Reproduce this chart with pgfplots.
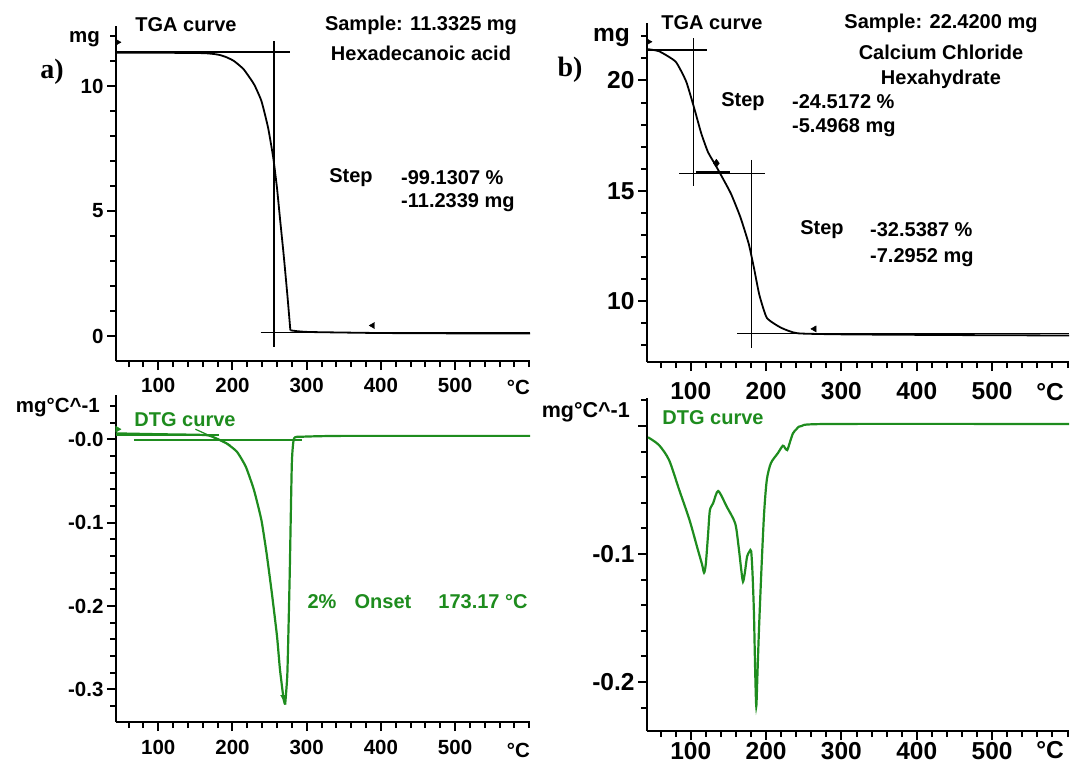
\documentclass[border=0pt]{standalone}
\usepackage{pgfplots}
\pgfplotsset{compat=1.18}
\usepackage{fontspec}
\setmainfont{Liberation Sans}
\newfontfamily\serifbold{Liberation Serif}
\definecolor{dtg}{RGB}{30,140,30}
\newcommand{\tla}{\fontsize{20.5}{20.5}\selectfont\bfseries}
\newcommand{\tlb}{\fontsize{24.5}{24.5}\selectfont\bfseries}
\newcommand{\an}{\fontsize{20}{22}\selectfont\bfseries}
\pgfplotsset{
  base/.style={scale only axis, anchor=south west,
    axis x line*=bottom, axis y line*=left,
    axis line style={black, line width=2.6pt},
    xtick pos=left, ytick pos=left,
    tick align=outside,
    every tick/.style={line width=2pt,black},
    major tick length=9pt, minor tick length=6pt, clip=false,
    /pgf/number format/assume math mode=true,
    xtick={100,200,300,400,500},
    minor xtick={60,80,120,140,160,180,220,240,260,280,320,340,360,380,420,440,460,480,520,540,560,580,600},
    xticklabels={100,200,300,400,500},
  },
  tga/.style={black, line width=1.8pt, smooth, tension=0.3},
  tan/.style={black, line width=1.2pt},
  dtgl/.style={dtg, line width=2.2pt, smooth, tension=0.3},
}
\begin{document}
\begin{tikzpicture}
\useasboundingbox (0,0) rectangle (1071pt,-764pt);
% ---------------- panel a, TGA
\begin{axis}[base, at={(116pt,-361pt)}, width=414pt, height=335pt,
  xmin=43, xmax=601, ymin=-1, ymax=12.4,
  ytick={0,5,10}, yticklabels={0,5,10},
  minor ytick={1,2,3,4,6,7,8,9,11,12},
  ticklabel style={font=\tla}, xticklabel style={yshift=-5pt}]
\addplot[tga] coordinates {(43,11.33) (100,11.33) (150,11.32) (164,11.31) (175,11.28) (183,11.24) (192,11.15) (202,11.0) (215,10.67) (229,10.07) (239,9.4) (248,8.33) (255,7.12) (260,5.92) (264,4.71) (269,3.24) (274,1.63) (278,0.23)};
\addplot[tga] coordinates {(278,0.23) (285,0.20) (304,0.16) (397,0.12) (500,0.105) (601,0.10)};
\addplot[tan] coordinates {(43,11.36) (277,11.36)};
\addplot[tan] coordinates {(256,11.8) (256,-0.45)};
\addplot[tan] coordinates {(238,0.13) (601,0.13)};
\addplot[only marks, mark=triangle*, mark size=3.5pt, mark options={rotate=-90, fill=black}] coordinates {(45,11.75)};
\addplot[only marks, mark=triangle*, mark size=3.5pt, mark options={rotate=90, fill=black}] coordinates {(389,0.42)};
\end{axis}
% ---------------- panel a, DTG
\begin{axis}[base, at={(116pt,-722pt)}, width=414pt, height=327pt,
  xmin=43, xmax=601, ymin=-0.339, ymax=0.053,
  ytick={-0.3,-0.2,-0.1,0}, yticklabels={-0.3,-0.2,-0.1,-0.0},
  minor ytick={-0.32,-0.28,-0.26,-0.24,-0.22,-0.18,-0.16,-0.14,-0.12,-0.08,-0.06,-0.04,-0.02,0.02,0.04},
  ticklabel style={font=\tla}, xticklabel style={yshift=-6pt}]
\addplot[dtg, line width=1.2pt] coordinates {(67,-0.001) (294,-0.001)};
\addplot[dtg, line width=2.6pt] coordinates {(43,0.005) (182,0.005)};
\addplot[dtg, line width=1.2pt] coordinates {(150,0.012) (197,-0.007)};
\addplot[dtgl] coordinates {(43,0.007) (100,0.006) (164,0.005) (178,0.001) (192,-0.005) (206,-0.015) (218,-0.033) (229,-0.061) (239,-0.097) (246,-0.137) (253,-0.184) (260,-0.236) (264,-0.276) (269,-0.312) (271,-0.318)};
\addplot[dtgl] coordinates {(271,-0.318) (274,-0.28) (277,-0.168) (280,-0.029) (283,0.001) (294,0.003) (350,0.004) (601,0.004)};
\addplot[only marks, dtg, mark=triangle*, mark size=3.5pt, mark options={rotate=-90, fill=dtg}] coordinates {(45,0.012)};
\addplot[only marks, dtg, mark=triangle*, mark size=3.5pt, mark options={rotate=180, fill=dtg}] coordinates {(269,-0.309)};
\end{axis}
% ---------------- panel b, TGA
\begin{axis}[base, at={(647pt,-362pt)}, width=422pt, height=339pt,
  xmin=42, xmax=602, ymin=7.25, ymax=22.6,
  ytick={10,15,20}, yticklabels={10,15,20},
  minor ytick={8,9,11,12,13,14,16,17,18,19,21,22},
  ticklabel style={font=\tlb}, xticklabel style={yshift=-8pt}]
\addplot[tga] coordinates {(42,21.42) (58,21.32) (80,20.85) (94,19.95) (105,18.7) (114,17.6) (123,16.75) (134,16.1) (153,14.9) (166,13.8) (177,12.6) (184,11.5) (191,10.3) (201,9.25) (220,8.8) (242,8.55) (305,8.5) (450,8.47) (602,8.45)};
\addplot[tan] coordinates {(42,21.38) (122,21.38)};
\addplot[tan] coordinates {(104,21.9) (104,15.2)};
\addplot[tan] coordinates {(85,15.8) (199,15.8)};
\addplot[black, line width=2.5pt] coordinates {(107,15.82) (152,15.82)};
\addplot[tan] coordinates {(181,16.4) (181,7.9)};
\addplot[tan] coordinates {(162,8.55) (602,8.55)};
\addplot[only marks, mark=diamond*, mark size=4pt, mark options={fill=black}] coordinates {(134,16.25)};
\addplot[only marks, mark=triangle*, mark size=3.5pt, mark options={rotate=-90, fill=black}] coordinates {(44,21.75)};
\addplot[only marks, mark=triangle*, mark size=3.5pt, mark options={rotate=90, fill=black}] coordinates {(264,8.75)};
\end{axis}
% ---------------- panel b, DTG
\begin{axis}[base, at={(647pt,-731pt)}, width=422pt, height=333pt,
  xmin=42, xmax=602, ymin=-0.2383, ymax=0.0219,
  ytick={-0.2,-0.1,0}, yticklabels={-0.2,-0.1,},
  minor ytick={-0.22,-0.18,-0.16,-0.14,-0.12,-0.08,-0.06,-0.04,-0.02,0.02},
  ticklabel style={font=\tlb}, xticklabel style={yshift=1pt}]
\addplot[dtgl, tension=0.45] coordinates {(43.4,-0.0088) (57.8,-0.0148) (71.3,-0.0266) (84.8,-0.050) (98.4,-0.0734) (109.6,-0.0969) (115,-0.108) (117.7,-0.1146) (120,-0.108) (123,-0.085) (125.4,-0.066) (129.7,-0.0604) (136.5,-0.0508) (147.8,-0.063) (159,-0.076) (163.5,-0.094) (167,-0.112) (169.4,-0.1216) (172,-0.114) (174.8,-0.102) (178,-0.098) (180.2,-0.0977) (182,-0.115) (183.9,-0.146) (185.5,-0.19) (187,-0.219) (188.5,-0.195) (190.6,-0.159) (194,-0.11) (197.4,-0.068) (201,-0.042) (206.4,-0.029) (215.4,-0.0214) (222.2,-0.0154) (225,-0.017) (228.1,-0.0188) (232,-0.012) (235.7,-0.0057) (241,-0.002) (247,0.000) (283,0.0016) (602,0.0016)};
\end{axis}
% ---------------- texts
\node[font=\an] at (186pt,-25pt) {TGA curve};
\node[font=\an] at (421pt,-25pt) {Sample: 11.3325 mg};
\node[font=\an] at (421pt,-53pt) {Hexadecanoic acid};
\node[font=\an] at (351pt,-178pt) {Step};
\node[font=\an, anchor=west, inner sep=0pt] at (401pt,-178pt) {-99.1307 \%};
\node[font=\an, anchor=west, inner sep=0pt] at (401pt,-203pt) {-11.2339 mg};
\node[font=\serifbold\bfseries\fontsize{28}{28}\selectfont] at (52pt,-72pt) {a)};
\node[font=\tla, anchor=east, inner sep=0pt] at (100pt,-39pt) {mg};
\node[font=\tla, anchor=east, inner sep=0pt] at (530pt,-387pt) {°C};
\node[font=\tla, anchor=east, inner sep=0pt] at (100pt,-408pt) {mg°C\^{}-1};
\node[font=\an, text=dtg] at (185pt,-420pt) {DTG curve};
\node[font=\an, text=dtg] at (322pt,-602pt) {2\%};
\node[font=\an, text=dtg] at (383pt,-602pt) {Onset};
\node[font=\an, text=dtg] at (483pt,-602pt) {173.17 °C};
\node[font=\tla, anchor=east, inner sep=0pt] at (530pt,-750pt) {°C};
\node[font=\an] at (712pt,-23pt) {TGA curve};
\node[font=\an] at (941pt,-23pt) {Sample: 22.4200 mg};
\node[font=\an] at (941pt,-52pt) {Calcium Chloride};
\node[font=\an] at (941pt,-79pt) {Hexahydrate};
\node[font=\an] at (743pt,-102pt) {Step};
\node[font=\an, anchor=west, inner sep=0pt] at (792pt,-102pt) {-24.5172 \%};
\node[font=\an, anchor=west, inner sep=0pt] at (792pt,-128pt) {-5.4968 mg};
\node[font=\an] at (822pt,-230pt) {Step};
\node[font=\an, anchor=west, inner sep=0pt] at (870pt,-230pt) {-32.5387 \%};
\node[font=\an, anchor=west, inner sep=0pt] at (870pt,-258pt) {-7.2952 mg};
\node[font=\serifbold\bfseries\fontsize{28}{28}\selectfont] at (570pt,-70pt) {b)};
\node[font=\tlb, anchor=east, inner sep=0pt] at (630pt,-37pt) {mg};
\node[font=\tlb, anchor=east, inner sep=0pt] at (1064pt,-392pt) {°C};
\node[font=\fontsize{21.5}{21.5}\selectfont\bfseries, anchor=east, inner sep=0pt] at (630pt,-412pt) {mg°C\^{}-1};
\node[font=\an, text=dtg] at (713pt,-418pt) {DTG curve};
\node[font=\tlb, anchor=east, inner sep=0pt] at (1064pt,-750pt) {°C};
\end{tikzpicture}
\end{document}
